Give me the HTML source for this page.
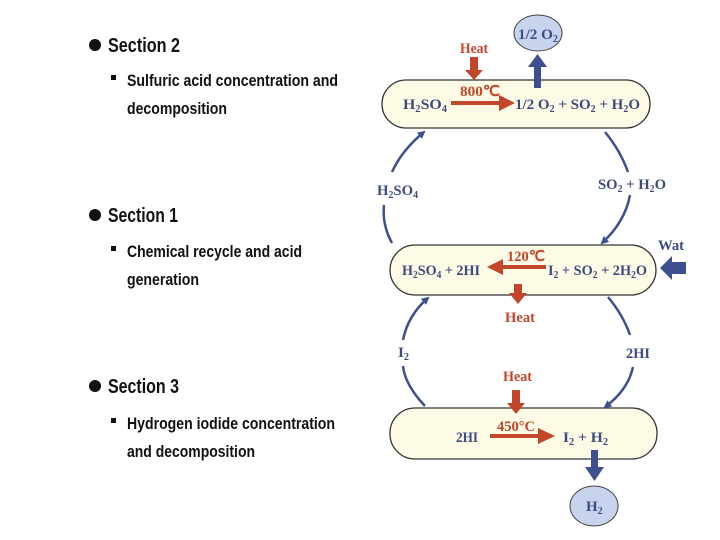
<!DOCTYPE html>
<html><head><meta charset="utf-8"><style>html,body{margin:0;padding:0;background:#fff}svg{display:block}</style></head>
<body>
<svg width="720" height="540" viewBox="0 0 720 540" xmlns="http://www.w3.org/2000/svg" font-family="Liberation Sans, sans-serif" font-weight="bold">
<defs>
<marker id="bh" markerWidth="8" markerHeight="8" refX="6" refY="4" orient="auto" markerUnits="userSpaceOnUse"><path d="M0,0 L8,4 L0,8 Z" fill="#3d4f8f"/></marker>
</defs>
<g fill="#111">
<circle cx="95" cy="45" r="6"/>
<text x="108" y="52" font-size="20" textLength="72" lengthAdjust="spacingAndGlyphs">Section 2</text>
<rect x="111" y="75" width="5" height="5"/>
<text x="127" y="86" font-size="17" textLength="211" lengthAdjust="spacingAndGlyphs">Sulfuric acid concentration and</text>
<text x="127" y="114" font-size="17" textLength="100" lengthAdjust="spacingAndGlyphs">decomposition</text>
<circle cx="95" cy="215" r="6"/>
<text x="108" y="222" font-size="20" textLength="70" lengthAdjust="spacingAndGlyphs">Section 1</text>
<rect x="111" y="246" width="5" height="5"/>
<text x="127" y="257" font-size="17" textLength="175" lengthAdjust="spacingAndGlyphs">Chemical recycle and acid</text>
<text x="127" y="285" font-size="17" textLength="72" lengthAdjust="spacingAndGlyphs">generation</text>
<circle cx="95" cy="386" r="6"/>
<text x="108" y="393" font-size="20" textLength="71" lengthAdjust="spacingAndGlyphs">Section 3</text>
<rect x="111" y="418" width="5" height="5"/>
<text x="127" y="429" font-size="17" textLength="208" lengthAdjust="spacingAndGlyphs">Hydrogen iodide concentration</text>
<text x="127" y="457" font-size="17" textLength="128" lengthAdjust="spacingAndGlyphs">and decomposition</text>
</g>
<g fill="#fdfbe6" stroke="#333" stroke-width="1.3">
<rect x="382" y="80" width="268" height="48" rx="24"/>
<rect x="390" y="245" width="266" height="50" rx="25"/>
<rect x="390" y="408" width="267" height="51" rx="25"/>
</g>
<g fill="#c8d4ee" stroke="#444" stroke-width="1">
<ellipse cx="538" cy="33" rx="24" ry="18"/>
<ellipse cx="594" cy="506" rx="24" ry="20"/>
</g>
<g fill="none" stroke="#3d4f8f" stroke-width="2.5">
<path d="M392,243 Q382,225 384,205" />
<path d="M392,172 Q402,150 424,132" marker-end="url(#bh)"/>
<path d="M605,132 Q620,150 628,172"/>
<path d="M630,195 Q625,222 602,243" marker-end="url(#bh)"/>
<path d="M425,406 Q405,385 403,366"/>
<path d="M403,340 Q408,315 428,298" marker-end="url(#bh)"/>
<path d="M608,297 Q623,315 630,335"/>
<path d="M633,367 Q628,390 605,407" marker-end="url(#bh)"/>
</g>
<g fill="#c4462a">
<rect x="451" y="101" width="50" height="4"/><path d="M499,95 L515,103 L499,111Z"/>
<rect x="502" y="265" width="44" height="4"/><path d="M503,259 L487,267 L503,275Z"/>
<rect x="490" y="434" width="50" height="4"/><path d="M538,428 L555,436 L538,444Z"/>
<rect x="470" y="57" width="8" height="14"/><path d="M465,70 L483,70 L474,80Z"/>
<rect x="514" y="284" width="8" height="10"/><path d="M509,293 L527,293 L518,304Z"/>
<rect x="512" y="390" width="8" height="14"/><path d="M507,403 L525,403 L516,414Z"/>
</g>
<g fill="#3d4f8f">
<rect x="534" y="66" width="7" height="22"/><path d="M528,67 L547,67 L537.5,54Z"/>
<rect x="591" y="450" width="7" height="18"/><path d="M585,467 L604,467 L594.5,481Z"/>
<path d="M686,262 L672,262 L672,256 L660,268 L672,280 L672,274 L686,274Z"/>
</g>
<g fill="#c4462a" font-size="15" font-family="Liberation Serif, serif">
<text x="460" y="53" textLength="28" lengthAdjust="spacingAndGlyphs">Heat</text>
<text x="460" y="96" textLength="40" lengthAdjust="spacingAndGlyphs">800℃</text>
<text x="507" y="261" textLength="38" lengthAdjust="spacingAndGlyphs">120℃</text>
<text x="505" y="322" textLength="30" lengthAdjust="spacingAndGlyphs">Heat</text>
<text x="503" y="381" textLength="29" lengthAdjust="spacingAndGlyphs">Heat</text>
<text x="497" y="431" textLength="38" lengthAdjust="spacingAndGlyphs">450°C</text>
</g>
<g fill="#3d4a80" font-size="15" font-family="Liberation Serif, serif">
<text x="518" y="39" textLength="40" lengthAdjust="spacingAndGlyphs">1/2 O<tspan font-size="10" dy="3">2</tspan></text>
<text x="403" y="109" textLength="44" lengthAdjust="spacingAndGlyphs">H<tspan font-size="10" dy="3">2</tspan><tspan dy="-3">SO</tspan><tspan font-size="10" dy="3">4</tspan></text>
<text x="515" y="109" textLength="125" lengthAdjust="spacingAndGlyphs">1/2 O<tspan font-size="10" dy="3">2</tspan><tspan dy="-3"> + SO</tspan><tspan font-size="10" dy="3">2</tspan><tspan dy="-3"> + H</tspan><tspan font-size="10" dy="3">2</tspan><tspan dy="-3">O</tspan></text>
<text x="377" y="195" textLength="41" lengthAdjust="spacingAndGlyphs">H<tspan font-size="10" dy="3">2</tspan><tspan dy="-3">SO</tspan><tspan font-size="10" dy="3">4</tspan></text>
<text x="598" y="189" textLength="68" lengthAdjust="spacingAndGlyphs">SO<tspan font-size="10" dy="3">2</tspan><tspan dy="-3"> + H</tspan><tspan font-size="10" dy="3">2</tspan><tspan dy="-3">O</tspan></text>
<text x="402" y="275" textLength="78" lengthAdjust="spacingAndGlyphs">H<tspan font-size="10" dy="3">2</tspan><tspan dy="-3">SO</tspan><tspan font-size="10" dy="3">4</tspan><tspan dy="-3"> + 2HI</tspan></text>
<text x="548" y="275" textLength="99" lengthAdjust="spacingAndGlyphs">I<tspan font-size="10" dy="3">2</tspan><tspan dy="-3"> + SO</tspan><tspan font-size="10" dy="3">2</tspan><tspan dy="-3"> + 2H</tspan><tspan font-size="10" dy="3">2</tspan><tspan dy="-3">O</tspan></text>
<text x="658" y="250" textLength="26" lengthAdjust="spacingAndGlyphs">Wat</text>
<text x="398" y="357" textLength="11" lengthAdjust="spacingAndGlyphs">I<tspan font-size="10" dy="3">2</tspan></text>
<text x="626" y="358" textLength="24" lengthAdjust="spacingAndGlyphs">2HI</text>
<text x="456" y="442" textLength="22" lengthAdjust="spacingAndGlyphs">2HI</text>
<text x="563" y="442" textLength="45" lengthAdjust="spacingAndGlyphs">I<tspan font-size="10" dy="3">2</tspan><tspan dy="-3"> + H</tspan><tspan font-size="10" dy="3">2</tspan></text>
<text x="586" y="511">H<tspan font-size="10" dy="3">2</tspan></text>
</g>
</svg>
</body></html>
